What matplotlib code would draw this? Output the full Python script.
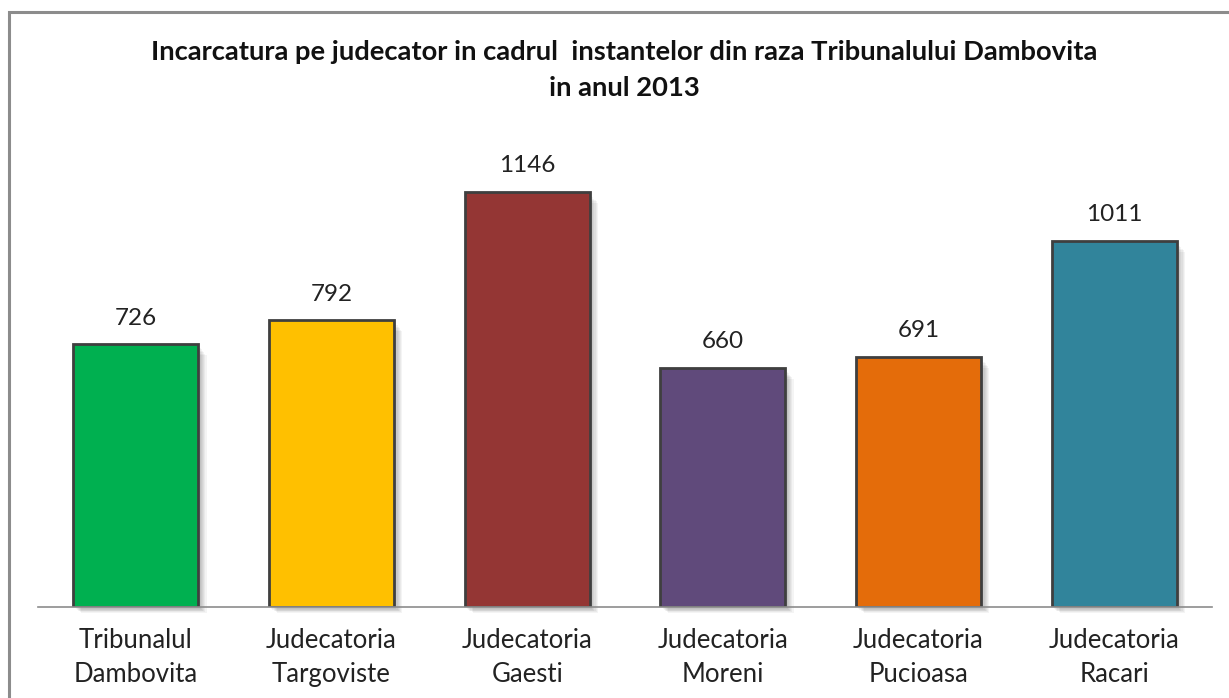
import matplotlib
matplotlib.use("Agg")
import matplotlib.pyplot as plt
from matplotlib.patches import Rectangle

categories = ["Tribunalul\nDambovita", "Judecatoria\nTargoviste", "Judecatoria\nGaesti",
              "Judecatoria\nMoreni", "Judecatoria\nPucioasa", "Judecatoria\nRacari"]
values = [726, 792, 1146, 660, 691, 1011]
colors = ["#00B050", "#FFC000", "#943634", "#604A7B", "#E46C0A", "#31849B"]
title = "Incarcatura pe judecator in cadrul  instantelor din raza Tribunalului Dambovita\nin anul 2013"

plt.rcParams['font.family'] = ['Lato', 'DejaVu Sans']

W, H = 1229, 698
fig = plt.figure(figsize=(W / 100, H / 100), dpi=100)

# outer frame (cropped at right/bottom)
fig.patches.append(Rectangle((9 / W, -0.05), 1.2, (H - 12) / H + 0.05, transform=fig.transFigure,
                             fill=False, edgecolor="#8C8C8C", linewidth=2.2, zorder=0))

ax = fig.add_axes([38 / W, (H - 607) / H, 1174 / W, 507 / H])
ax.set_xlim(-0.5, len(values) - 0.5)
ax.set_ylim(0, 1400)
x = list(range(len(values)))
bw = 0.64

# soft shadows
for i in range(6):
    off = 0.012 + i * 0.006
    ax.bar([xi + off for xi in x], [v - 4 - i * 2 for v in values], width=bw, bottom=[-6 - i * 2] * len(values),
           color="black", alpha=0.045, linewidth=0, zorder=1, clip_on=False)

ax.bar(x, values, width=bw, color=colors, edgecolor="#3F3F3F", linewidth=2, zorder=3)

for xi, v in zip(x, values):
    ax.text(xi, v + 72, str(v), ha="center", va="center", fontsize=17.5, color="#222222")

ax.set_xticks(x)
ax.set_xticklabels(categories, fontsize=18.5, color="#222222", linespacing=1.45)
ax.tick_params(axis="x", length=0, pad=15)
ax.set_yticks([])
for s in ["top", "right", "left"]:
    ax.spines[s].set_visible(False)
ax.spines["bottom"].set_color("#8C8C8C")
ax.spines["bottom"].set_linewidth(1.2)
ax.spines["bottom"].set_zorder(4)

fig.text(624 / W, 1 - 70 / H, title, ha="center", va="center", fontsize=19.7, fontweight="bold",
         color="#111111", linespacing=1.55)

fig.savefig("out.png", dpi=100)
